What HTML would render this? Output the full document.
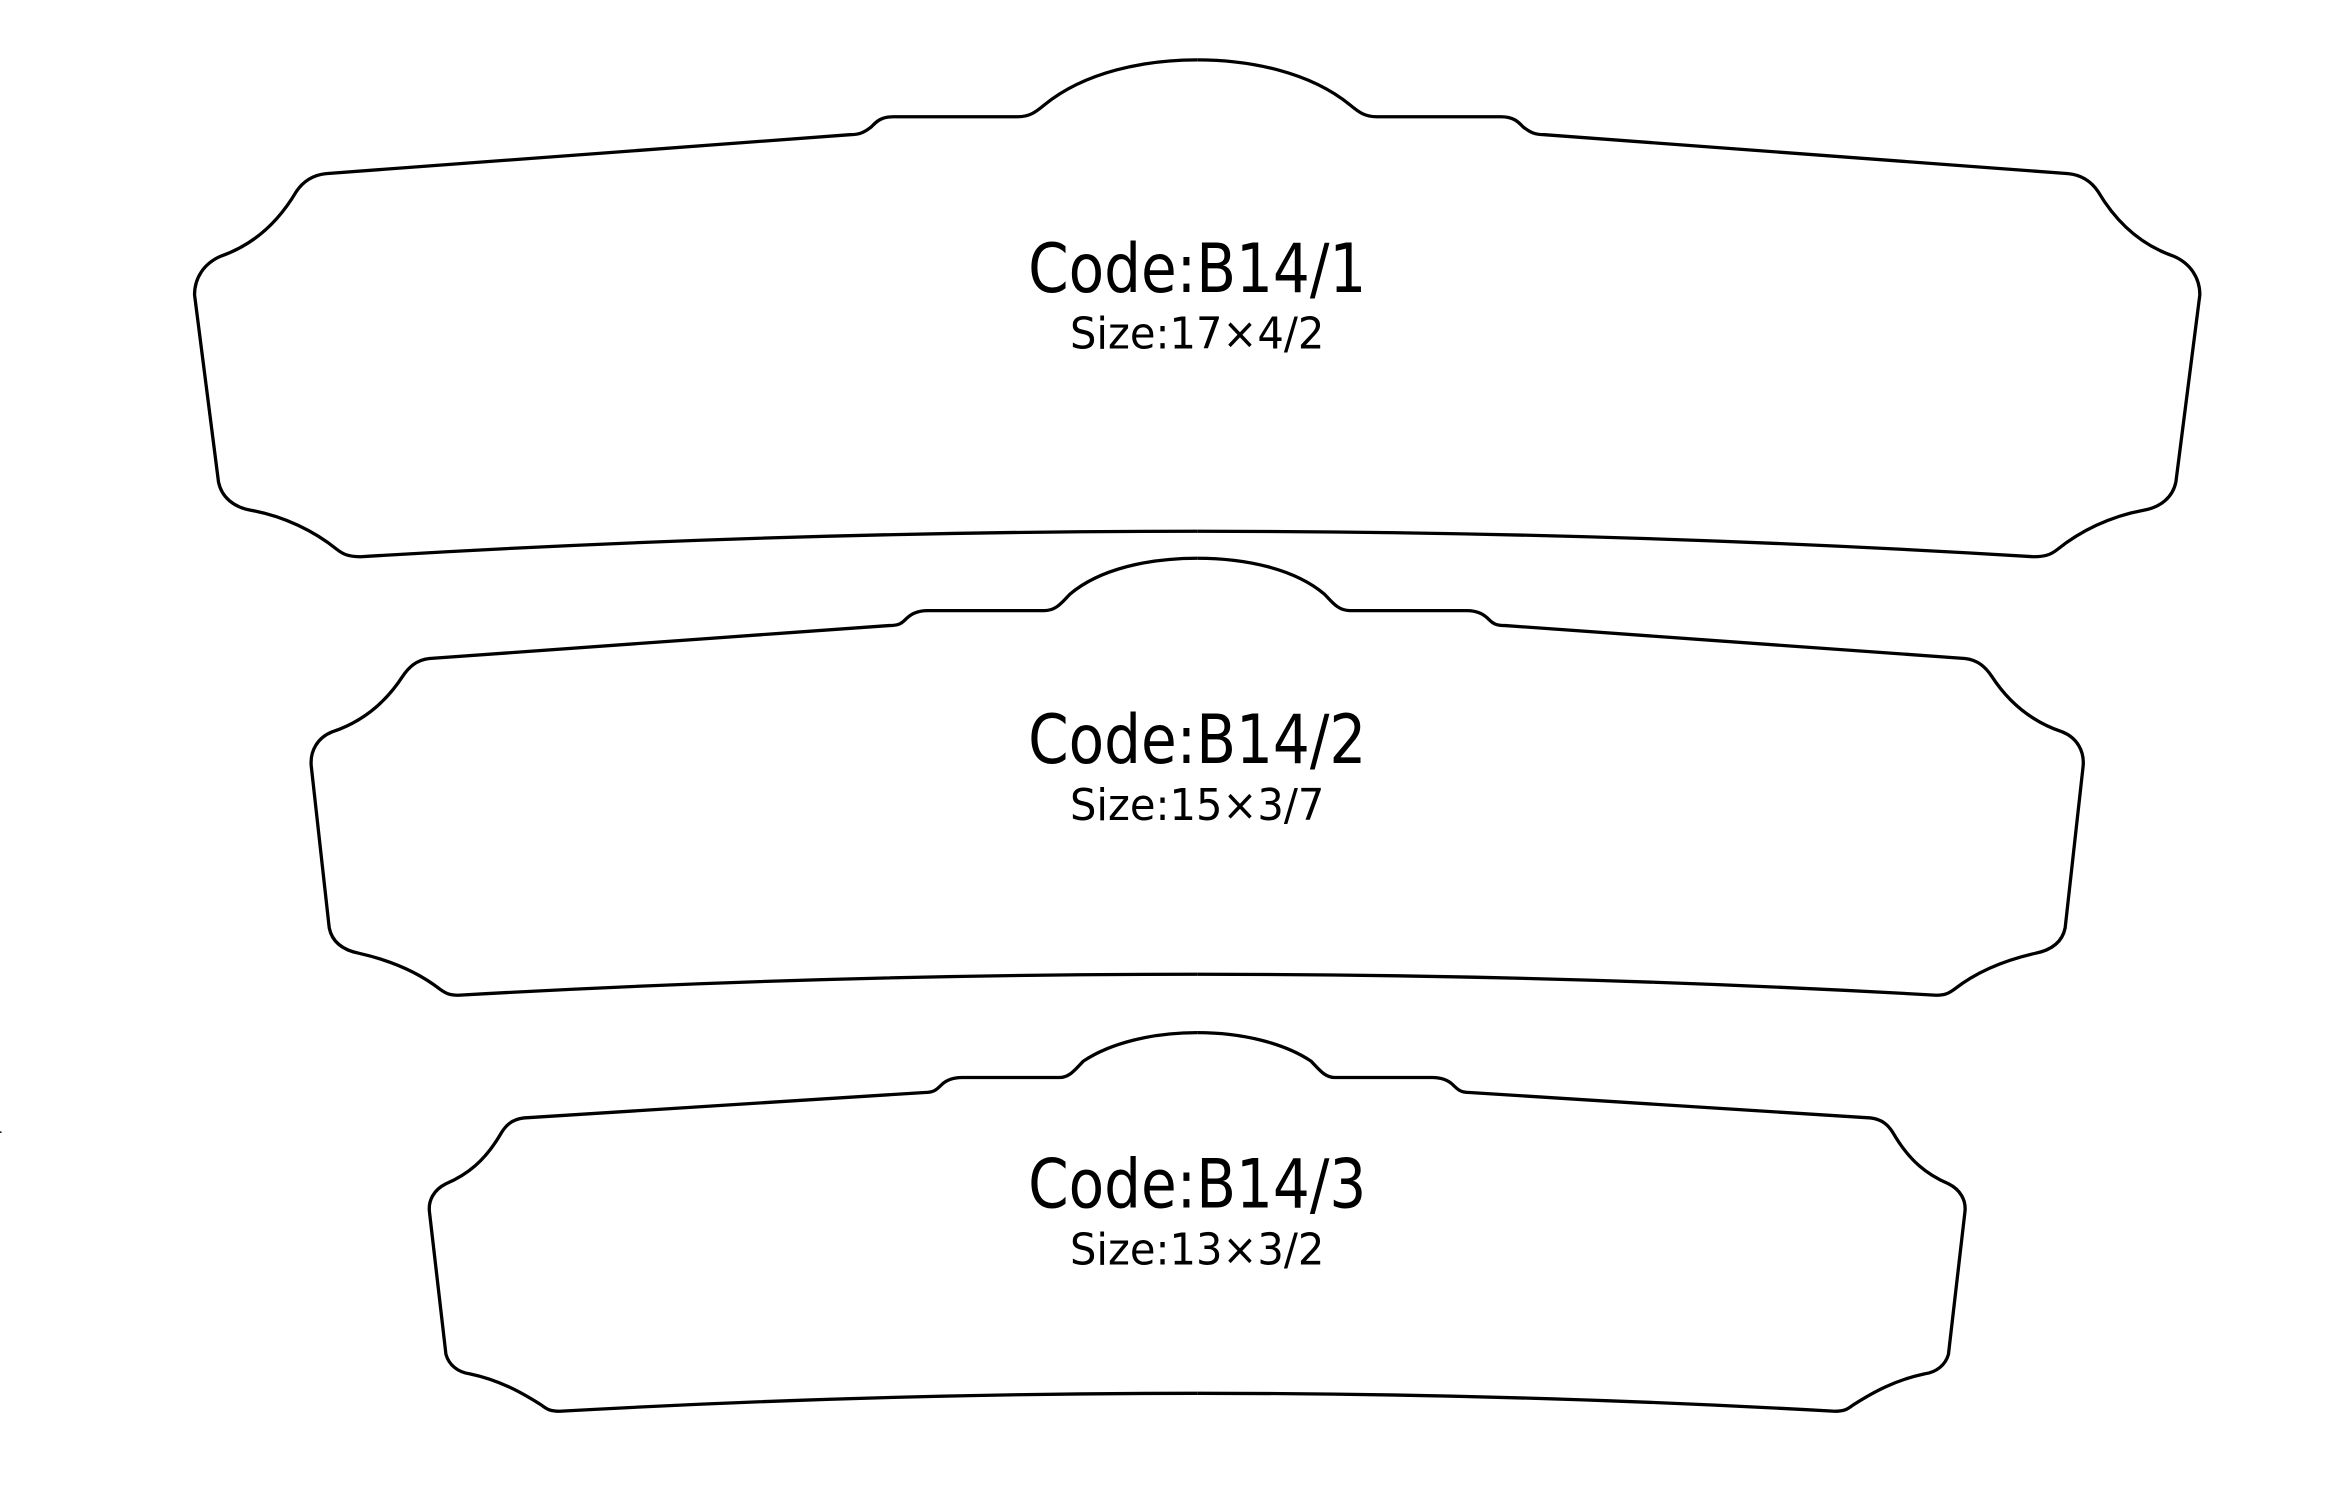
<!DOCTYPE html>
<html><head><meta charset="utf-8"><style>
html,body{margin:0;padding:0;background:#fff;}
svg{display:block;}
text{font-family:"DejaVu Sans Condensed","DejaVu Sans","Liberation Sans",sans-serif;fill:#000;}
</style></head><body>
<svg width="2345" height="1503" viewBox="0 0 1567 1004.3" preserveAspectRatio="none" xmlns="http://www.w3.org/2000/svg">
<defs>
<path id="s1" d="M800,40 C765,40 725,48 698,70 C692,75 688,78 680,78 L597,78 C588,78 585,82 582,85 C578,88 575,90 568,90 L218,116 C208,117 202,122 198,128 C185,150 168,164 148,171 C136,176 130,186 130,197 L146,322 C148,332 156,339 168,341 C190,345 210,355 225,367 C230,371 234,372 241,372 Q520,355 800,355"/>
<path id="s2" d="M800,373 C768,373 735,380 715,397 C710,402 706,408 698,408 L620,408 C612,408 608,411 605,414 C602,417 600,418 594,418 L287,440 C278,441 273,446 269,452 C256,472 240,483 222,489 C212,493 207,502 208,512 L220,620 C222,630 230,635 240,637 C262,642 280,650 294,661 C298,664 301,665 306,665 Q553,651 800,651"/>
<path id="s3" d="M800,690 C770,690 742,697 724,709 C719,714 715,720 708,720 L643,720 C636,720 632,722 629,725 C626,728 624,730 618,730 L350,747 C342,748 338,752 335,757 C324,776 312,785 298,791 C290,795 286,802 287,810 L298,905 C300,912 306,917 314,918 C333,922 348,930 362,939 C366,942 368,943 374,943 Q587,931 800,931"/>
</defs>
<g fill="none" stroke="#000" stroke-width="2.2" stroke-linejoin="round">
<use href="#s1"/><use href="#s1" transform="translate(1600,0) scale(-1,1)"/>
<use href="#s2"/><use href="#s2" transform="translate(1600,0) scale(-1,1)"/>
<use href="#s3"/><use href="#s3" transform="translate(1600,0) scale(-1,1)"/>
</g>
<text x="800" y="195" font-size="45" text-anchor="middle" textLength="226" lengthAdjust="spacingAndGlyphs">Code:B14/1</text>
<text x="800" y="233" font-size="29" text-anchor="middle" textLength="170" lengthAdjust="spacingAndGlyphs">Size:17×4/2</text>
<text x="800" y="510" font-size="45" text-anchor="middle" textLength="226" lengthAdjust="spacingAndGlyphs">Code:B14/2</text>
<text x="800" y="548" font-size="29" text-anchor="middle" textLength="170" lengthAdjust="spacingAndGlyphs">Size:15×3/7</text>
<text x="800" y="807" font-size="45" text-anchor="middle" textLength="226" lengthAdjust="spacingAndGlyphs">Code:B14/3</text>
<text x="800" y="845" font-size="29" text-anchor="middle" textLength="170" lengthAdjust="spacingAndGlyphs">Size:13×3/2</text>
<rect x="0" y="756" width="1" height="1" fill="#000"/>
</svg>
</body></html>
